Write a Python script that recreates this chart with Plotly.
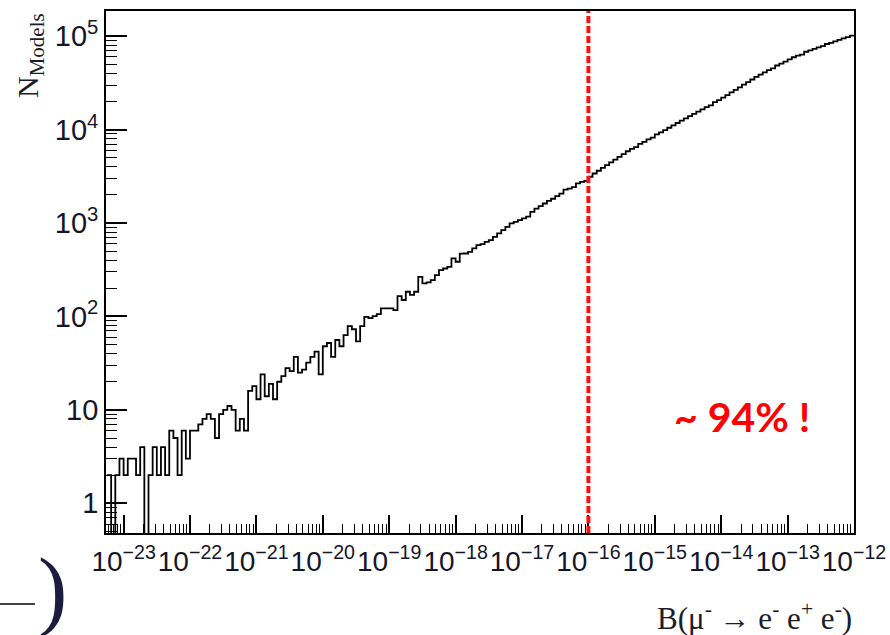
import plotly.graph_objects as go

# ---------------- data ----------------
bin_lo = -23.25          # log10 of lower edge of first bin
bin_width = 1.0 / 16.0   # bin width in decades
counts = [
    2, 0, 2, 3, 2, 3, 3, 2, 4, 0,
    2, 4, 2, 4, 2, 6, 5, 2, 6, 3,
    6, 6, 7, 8, 9, 8, 5, 9, 10, 11,
    10, 6, 8, 6, 16, 18, 13, 24, 14, 19,
    13, 20, 23, 28, 26, 37, 25, 27, 32, 37,
    42, 24, 48, 52, 37, 56, 48, 63, 79, 73,
    54, 79, 99, 96, 101, 106, 122, 122, 122, 117,
    165, 150, 184, 170, 184, 266, 226, 232, 245, 277,
    313, 326, 340, 418, 385, 470, 472, 492, 535, 580,
    594, 630, 656, 712, 775, 840, 912, 990, 1030, 1075,
    1120, 1170, 1320, 1430, 1515, 1620, 1730, 1820, 1940, 2070,
    2275, 2340, 2430, 2660, 2760, 2835, 3130, 3390, 3630, 3890,
    4160, 4460, 4780, 5120, 5480, 5870, 6210, 6500, 7050, 7410,
    7850, 8200, 8900, 9330, 9890, 10470, 11090, 11770, 12470, 13180,
    13930, 14750, 15600, 16490, 17460, 18200, 19700, 20650, 21980, 23440,
    25000, 26670, 28380, 30270, 32280, 34430, 36730, 38730, 41110, 43350,
    45300, 48600, 50820, 53580, 56490, 59570, 62000, 63400, 68200, 70470,
    73280, 76030, 78200, 82600, 84920, 88100, 91200, 94620, 97950, 101600,
]
x_tick_exps = list(range(-23, -11))
y_tick_vals = [1, 10, 100, 1000, 10000, 100000]
y_tick_text = ["1", "10", "10<sup>2</sup>", "10<sup>3</sup>", "10<sup>4</sup>", "10<sup>5</sup>"]
cut_value = 1e-16
note_text = "~ 94% !"
y_title = "N<sub>Models</sub>"
x_title = "B(\u03bc<sup>-</sup> \u2192 e<sup>-</sup> e<sup>+</sup> e<sup>-</sup>)"

# ---------------- build ----------------
n = len(counts)
edges = [10 ** (bin_lo + i * bin_width) for i in range(n + 1)]
floor_val = 1e-3  # empty bins drawn below the visible axis range (log scale)
ys = [c if c > 0 else floor_val for c in counts]
ys_draw = ys + [ys[-1]]

x_tick_vals = [10.0 ** e for e in x_tick_exps]
x_tick_text = ["10<sup>\u2212%d</sup>" % (-e) for e in x_tick_exps]

x_minor = [k * 10.0 ** e for e in range(-24, -11) for k in range(2, 10)]
y_minor = [k * 10.0 ** e for e in range(-1, 6) for k in range(2, 10)]

fig = go.Figure()
fig.add_trace(go.Scatter(
    x=edges, y=ys_draw, mode="lines", line_shape="hv",
    line=dict(color="black", width=1.8), hoverinfo="skip", showlegend=False,
))

tick_font = dict(family="Liberation Sans, Arial, sans-serif", color="#15152a")

fig.update_layout(
    width=890, height=635,
    margin=dict(l=106, r=36, t=11, b=102),
    paper_bgcolor="white", plot_bgcolor="white",
    showlegend=False,
    xaxis=dict(
        type="log", range=[-23.265, -12.0], automargin=False,
        showline=True, mirror=True, linecolor="black", linewidth=1.8,
        showgrid=False, zeroline=False,
        ticks="inside", ticklen=18, tickwidth=1.6, tickcolor="black",
        tickmode="array", tickvals=x_tick_vals, ticktext=x_tick_text,
        tickangle=0, ticklabeloverflow="allow", ticklabelstandoff=2,
        tickfont=dict(size=28, **tick_font),
        minor=dict(ticks="inside", ticklen=9, tickwidth=1.4, tickcolor="black",
                   tickmode="array", tickvals=x_minor, showgrid=False),
    ),
    yaxis=dict(
        type="log", range=[-0.318, 5.27], automargin=False,
        showline=True, mirror=True, linecolor="black", linewidth=1.8,
        showgrid=False, zeroline=False,
        ticks="inside", ticklen=21, tickwidth=1.6, tickcolor="black",
        tickmode="array", tickvals=y_tick_vals, ticktext=y_tick_text,
        tickfont=dict(size=29, **tick_font),
        minor=dict(ticks="inside", ticklen=11, tickwidth=1.4, tickcolor="black",
                   tickmode="array", tickvals=y_minor, showgrid=False),
    ),
)

# red dashed cut line
fig.add_shape(type="line", xref="x", yref="paper",
              x0=cut_value, x1=cut_value, y0=0, y1=1,
              line=dict(color="#ff1010", width=4, dash="7px,3px"))

# annotations
fig.add_annotation(text=note_text, xref="paper", yref="paper",
                   x=(742 - 106) / 748, y=(533 - 416) / 522,
                   showarrow=False, xanchor="center", yanchor="middle",
                   font=dict(family="Lato, Open Sans, sans-serif", size=41, color="#ff0000", weight="bold"))
fig.add_annotation(text=y_title, xref="paper", yref="paper",
                   x=(30 - 106) / 748, y=(533 - 56) / 522, textangle=-90,
                   showarrow=False, xanchor="center", yanchor="middle",
                   font=dict(family="Liberation Serif, Times New Roman, serif", size=30, color="#1c1c2a"))
fig.add_annotation(text=x_title, xref="paper", yref="paper",
                   x=1.0, y=(533 - 616) / 522,
                   showarrow=False, xanchor="right", yanchor="middle",
                   font=dict(family="Liberation Serif, Times New Roman, serif", size=31, color="#1c1c2a"))

# cropped slide artefact at the bottom-left corner
fig.add_annotation(text=")", xref="paper", yref="paper",
                   x=(52 - 106) / 748, y=(533 - 589) / 522,
                   showarrow=False, xanchor="center", yanchor="middle",
                   font=dict(family="Liberation Serif, Times New Roman, serif", size=88, color="#1c1c40"))
fig.add_shape(type="line", xref="paper", yref="paper",
              x0=(0 - 106) / 748, x1=(35 - 106) / 748,
              y0=(533 - 604) / 522, y1=(533 - 604) / 522,
              line=dict(color="black", width=1.6))

fig.write_html("out.html")
